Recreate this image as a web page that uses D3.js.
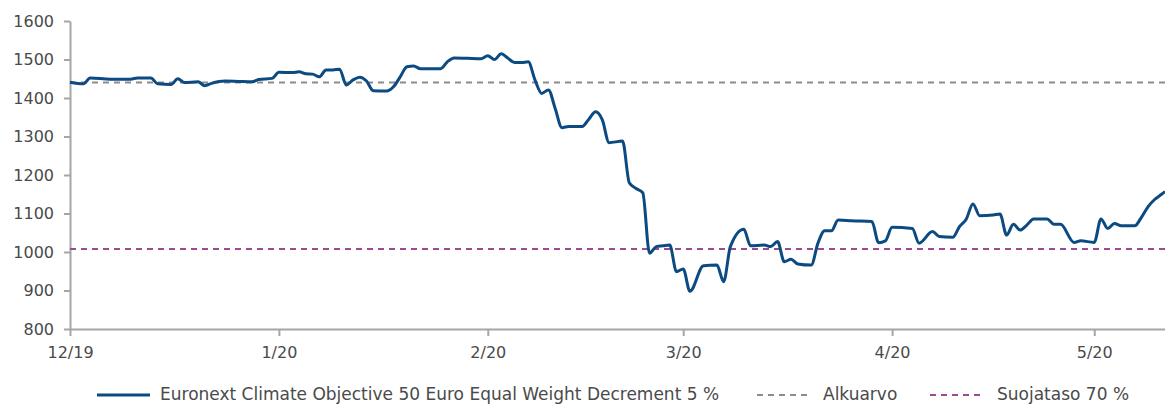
<!DOCTYPE html>
<html lang="fi">
<head>
<meta charset="utf-8">
<title>Euronext Climate Objective 50</title>
<script src="https://d3js.org/d3.v7.min.js"></script>
<style>
  html, body { margin: 0; padding: 0; background: #fff; }
  text { font-family: "DejaVu Sans", sans-serif; fill: #4a4a4a; }
  .axis path, .axis line { stroke: #a6a6a6; stroke-width: 2px; }
  .axis text { font-size: 16px; }
  path.index { fill: none; stroke: #0c4a82; stroke-width: 3px; }
</style>
</head>
<body>
<script>
// index values
var dates = [
  "2019-12-01","2019-12-03","2019-12-04","2019-12-07","2019-12-10","2019-12-11","2019-12-13","2019-12-14",
  "2019-12-16","2019-12-17","2019-12-18","2019-12-20","2019-12-21","2019-12-22","2019-12-24","2019-12-26",
  "2019-12-28","2019-12-29","2019-12-31","2020-01-01","2020-01-03","2020-01-04","2020-01-05","2020-01-06",
  "2020-01-07","2020-01-08","2020-01-09","2020-01-10","2020-01-11","2020-01-12","2020-01-13","2020-01-14",
  "2020-01-15","2020-01-17","2020-01-18","2020-01-19","2020-01-20","2020-01-21","2020-01-22","2020-01-25",
  "2020-01-26","2020-01-27","2020-01-29","2020-01-31","2020-02-01","2020-02-02","2020-02-03","2020-02-04",
  "2020-02-05","2020-02-06","2020-02-07","2020-02-08","2020-02-09","2020-02-10","2020-02-11","2020-02-12",
  "2020-02-13","2020-02-15","2020-02-16","2020-02-17","2020-02-18","2020-02-19","2020-02-21","2020-02-22",
  "2020-02-23","2020-02-24","2020-02-25","2020-02-26","2020-02-27","2020-02-28","2020-02-29","2020-03-01",
  "2020-03-02","2020-03-04","2020-03-06","2020-03-07","2020-03-08","2020-03-10","2020-03-11","2020-03-13",
  "2020-03-14","2020-03-15","2020-03-16","2020-03-17","2020-03-18","2020-03-20","2020-03-21","2020-03-22",
  "2020-03-23","2020-03-24","2020-03-26","2020-03-29","2020-03-30","2020-03-31","2020-04-01","2020-04-04",
  "2020-04-05","2020-04-07","2020-04-08","2020-04-10","2020-04-11","2020-04-12","2020-04-13","2020-04-14",
  "2020-04-16","2020-04-17","2020-04-18","2020-04-19","2020-04-20","2020-04-21","2020-04-22","2020-04-24",
  "2020-04-25","2020-04-26","2020-04-28","2020-04-29","2020-05-01","2020-05-02","2020-05-03","2020-05-04",
  "2020-05-05","2020-05-07","2020-05-08","2020-05-09","2020-05-10","2020-05-11","2020-05-11T12:00"
];
var values = [
  1441,1437,1452,1449,1449,1452,1452,1437,
  1435,1450,1440,1442,1432,1438,1444,1443,
  1442,1448,1451,1467,1466,1468,1463,1462,
  1455,1473,1473,1475,1434,1447,1454,1444,
  1419,1418,1429,1455,1481,1483,1476,1476,
  1494,1504,1503,1502,1510,1500,1515,1503,
  1492,1492,1494,1447,1412,1421,1373,1323,
  1326,1326,1345,1364,1343,1284,1288,1180,
  1165,1154,997,1014,1016,1018,949,956,
  898,964,966,923,1014,1059,1016,1018,
  1014,1027,975,981,969,966,1023,1055,
  1055,1083,1081,1079,1024,1029,1064,1061,
  1023,1053,1040,1038,1066,1085,1125,1094,
  1096,1099,1044,1072,1057,1070,1086,1086,
  1072,1072,1025,1029,1025,1086,1061,1074,
  1068,1068,1090,1118,1137,1150,1157
];

var startValue = 1440;          // Alkuarvo
var protectionLevel = 1008;     // Suojataso 70 %

var yTicks = [800, 900, 1000, 1100, 1200, 1300, 1400, 1500, 1600];
var xTicks = ["2019-12-01","2020-01-01","2020-02-01","2020-03-01","2020-04-01","2020-05-01"];
var xTickLabels = ["12/19","1/20","2/20","3/20","4/20","5/20"];

var legendLabels = ["Euronext Climate Objective 50 Euro Equal Weight Decrement 5 %", "Alkuarvo", "Suojataso 70 %"];

var W = 1165, H = 405;
var margin = {left: 70, right: 0, top: 21, bottom: 76};

var parse = function(s) { return new Date(s.length > 10 ? s : s + "T00:00"); };
var data = dates.map(function(d, i) { return {date: parse(d), value: values[i]}; });

var svg = d3.select("body").append("svg").attr("width", W).attr("height", H);

var x = d3.scaleTime()
  .domain([parse("2019-12-01"), parse("2020-05-11T12:00")])
  .range([margin.left, W - margin.right]);
var y = d3.scaleLinear()
  .domain([800, 1600])
  .range([H - margin.bottom, margin.top]);

// axes
svg.append("g").attr("class", "axis y")
  .attr("transform", "translate(" + margin.left + ",0)")
  .call(d3.axisLeft(y).tickValues(yTicks).tickSize(6).tickSizeOuter(0).tickPadding(10).tickFormat(d3.format("d")));
svg.append("g").attr("class", "axis x")
  .attr("transform", "translate(0," + (H - margin.bottom) + ")")
  .call(d3.axisBottom(x).tickValues(xTicks.map(parse)).tickSize(7).tickSizeOuter(0).tickPadding(11)
    .tickFormat(function(d, i) { return xTickLabels[i]; }));
svg.selectAll(".axis .domain").attr("stroke", "#a6a6a6");

// reference lines
svg.append("line")
  .attr("x1", margin.left).attr("x2", W)
  .attr("y1", y(startValue)).attr("y2", y(startValue))
  .attr("stroke", "#8c8c8c").attr("stroke-width", 2).attr("stroke-dasharray", "6,5");
svg.append("line")
  .attr("x1", margin.left).attr("x2", W)
  .attr("y1", y(protectionLevel)).attr("y2", y(protectionLevel))
  .attr("stroke", "#9c4a94").attr("stroke-width", 2).attr("stroke-dasharray", "6,5");

// index line
var line = d3.line()
  .x(function(d) { return x(d.date); })
  .y(function(d) { return y(d.value); })
  .curve(d3.curveMonotoneX);
svg.append("path").datum(data).attr("class", "index").attr("d", line);

// legend
var legY = 395;
var leg = [
  {x1: 97, x2: 150, tx: 160, color: "#0c4a82", dash: null, w: 3},
  {x1: 757, x2: 810, tx: 823, color: "#8c8c8c", dash: "6,5", w: 2},
  {x1: 930, x2: 985, tx: 997, color: "#9c4a94", dash: "6,5", w: 2}
];
leg.forEach(function(l, i) {
  svg.append("line").attr("x1", l.x1).attr("x2", l.x2).attr("y1", legY).attr("y2", legY)
    .attr("stroke", l.color).attr("stroke-width", l.w).attr("stroke-dasharray", l.dash);
  svg.append("text").attr("x", l.tx).attr("y", legY + 5).attr("font-size", 17).text(legendLabels[i]);
});
</script>
</body>
</html>
